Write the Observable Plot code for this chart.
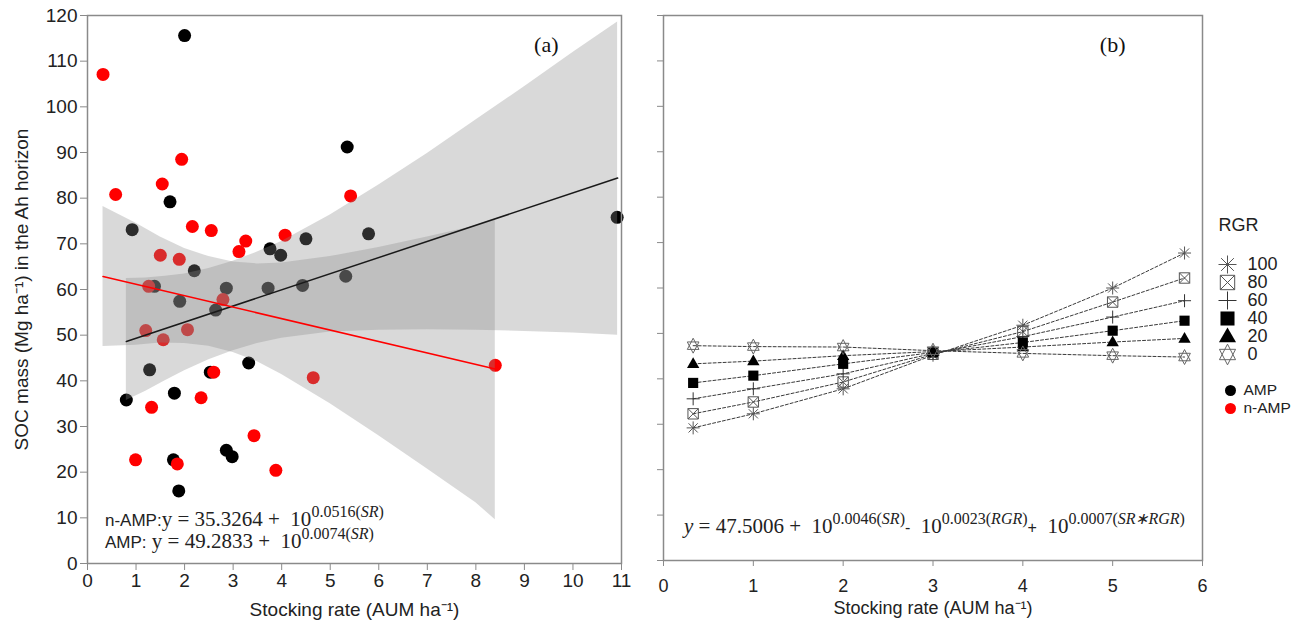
<!DOCTYPE html>
<html><head><meta charset="utf-8">
<script src="https://cdn.jsdelivr.net/npm/d3@7"></script>
<script src="https://cdn.jsdelivr.net/npm/@observablehq/plot@0.6"></script>
<style>
body{margin:0;background:#fff;}
#wrap{position:relative;width:1307px;height:624px;overflow:hidden;font-family:"Liberation Sans",Arial,sans-serif;}
#wrap svg{position:absolute;top:0;}
.eq{position:absolute;white-space:nowrap;color:#222;font-family:"Liberation Serif","Times New Roman",serif;font-size:21px;line-height:21px;}
.eq .s{font-family:"Liberation Sans",Arial,sans-serif;font-size:17px;}
.eq sup{font-size:16px;vertical-align:0.55em;line-height:0;}
.eq .op{font-family:"Liberation Sans",Arial,sans-serif;font-size:16px;}
</style></head><body><div id="wrap"></div>
<script>
// ---------- Panel (a) data ----------
const ampSR  = [2.00, 1.70, 0.92, 3.76, 3.98, 4.50, 5.79, 2.20, 1.38, 1.90, 2.86, 2.64, 3.72, 4.43, 5.32, 1.28, 3.32, 2.53, 0.80, 1.79, 1.77, 1.88, 2.86, 2.98, 5.35, 10.91];
const ampSOC = [115.6, 79.2, 73.1, 68.9, 67.5, 71.1, 72.2, 64.1, 60.7, 57.4, 60.3, 55.5, 60.3, 60.9, 62.9, 42.4, 43.9, 41.9, 35.8, 37.3, 22.7, 15.9, 24.8, 23.4, 91.2, 75.8];
const nampSR  = [0.32, 0.58, 1.94, 1.54, 2.16, 2.55, 3.12, 3.26, 4.07, 1.50, 1.89, 1.26, 2.79, 1.20, 1.56, 2.06, 2.60, 4.65, 2.34, 1.32, 0.99, 1.85, 3.43, 3.88, 5.42, 8.40];
const nampSOC = [107.1, 80.8, 88.5, 83.1, 73.8, 72.9, 68.3, 70.6, 71.9, 67.5, 66.6, 60.7, 57.8, 51.0, 49.0, 51.2, 41.9, 40.7, 36.3, 34.2, 22.7, 21.8, 28.0, 20.4, 80.5, 43.4];

// fitted lines (end points)
const ampFitSR = [0.80, 10.92];
const ampFitSOC = [48.6, 84.4];
const nampFitSR = [0.32, 8.40];
const nampFitSOC = [62.85, 42.6];

// confidence bands
const ampBandSR = [0.80, 1.2, 1.6, 2.0, 2.5, 3.0, 3.5, 4.0, 5.0, 6.0, 7.0, 8.0, 9.0, 10.0, 10.92];
const ampBandLo = [35.7, 37.7, 40.0, 42.2, 44.6, 46.6, 48.2, 49.3, 50.7, 51.1, 51.2, 51.1, 50.8, 50.5, 50.0];
const ampBandHi = [62.4, 62.5, 62.9, 63.4, 64.6, 66.2, 68.2, 70.5, 76.3, 82.9, 89.8, 97.1, 104.4, 111.9, 118.6];
const nampBandSR = [0.32, 1.0, 1.5, 2.0, 2.5, 3.0, 3.5, 4.0, 5.0, 6.0, 7.0, 8.0, 8.40];
const nampBandLo = [47.5, 47.8, 48.3, 48.2, 47.6, 46.2, 44.2, 41.4, 35.0, 28.0, 20.7, 13.3, 9.6];
const nampBandHi = [78.2, 74.5, 71.5, 69.0, 67.2, 66.0, 65.6, 65.8, 67.2, 69.2, 71.5, 73.9, 75.2];

const aYTicks = d3.range(0, 121, 10);
const aXTicks = d3.range(0, 12, 1);

// ---------- Panel (b) data ----------
const srB = [0.33, 1, 2, 3, 4, 5, 5.8];
const rgrLevels = [100, 80, 60, 40, 20, 0];
const socRGR100 = [29.2, 32.3, 37.8, 45.2, 51.8, 60.0, 67.7];
const socRGR80  = [32.3, 34.9, 39.3, 45.4, 50.4, 56.9, 62.2];
const socRGR60  = [35.6, 37.8, 41.1, 45.6, 49.3, 53.6, 57.2];
const socRGR40  = [39.1, 40.7, 43.3, 45.8, 48.0, 50.6, 52.8];
const socRGR20  = [43.3, 43.9, 45.1, 46.0, 47.0, 48.1, 48.9];
const socRGR0   = [47.3, 47.1, 47.0, 46.2, 45.6, 45.1, 44.8];
const bXTicks = d3.range(0, 7, 1);
const groupLabels = ["AMP", "n-AMP"];

// ---------- tables ----------
const ampPts = ampSR.map((x, i) => ({sr: x, soc: ampSOC[i]}));
const nampPts = nampSR.map((x, i) => ({sr: x, soc: nampSOC[i]}));
const ampFit = ampFitSR.map((x, i) => ({sr: x, soc: ampFitSOC[i]}));
const nampFit = nampFitSR.map((x, i) => ({sr: x, soc: nampFitSOC[i]}));
const ampBand = ampBandSR.map((x, i) => ({sr: x, lo: ampBandLo[i], hi: ampBandHi[i]}));
const nampBand = nampBandSR.map((x, i) => ({sr: x, lo: nampBandLo[i], hi: nampBandHi[i]}));
const seriesB = [socRGR100, socRGR80, socRGR60, socRGR40, socRGR20, socRGR0];
const tableB = rgrLevels.flatMap((g, k) => srB.map((x, i) => ({rgr: g, sr: x, soc: seriesB[k][i]})));

// ---------- custom symbols ----------
const rOf = size => Math.sqrt(size / Math.PI);
const asterisk8 = {draw(c, size) { const r = rOf(size), d = r * Math.SQRT1_2;
  c.moveTo(-r, 0); c.lineTo(r, 0); c.moveTo(0, -r); c.lineTo(0, r);
  c.moveTo(-d, -d); c.lineTo(d, d); c.moveTo(d, -d); c.lineTo(-d, d); }};
const boxX = {draw(c, size) { const s = rOf(size) * 0.8;
  c.moveTo(-s, -s); c.lineTo(s, -s); c.lineTo(s, s); c.lineTo(-s, s); c.closePath();
  c.moveTo(-s, -s); c.lineTo(s, s); c.moveTo(s, -s); c.lineTo(-s, s); }};
const plusS = {draw(c, size) { const r = rOf(size);
  c.moveTo(-r, 0); c.lineTo(r, 0); c.moveTo(0, -r); c.lineTo(0, r); }};
const squareF = {draw(c, size) { const s = rOf(size) * 0.78;
  c.moveTo(-s, -s); c.lineTo(s, -s); c.lineTo(s, s); c.lineTo(-s, s); c.closePath(); }};
const triF = {draw(c, size) { const r = rOf(size), h = r * 0.95;
  c.moveTo(0, -r); c.lineTo(h, r * 0.65); c.lineTo(-h, r * 0.65); c.closePath(); }};
const hexagram = {draw(c, size) { const r = rOf(size) * 1.15, h = r * 0.78;
  c.moveTo(0, -r); c.lineTo(h, r / 2); c.lineTo(-h, r / 2); c.closePath();
  c.moveTo(0, r); c.lineTo(h, -r / 2); c.lineTo(-h, -r / 2); c.closePath(); }};
const symStyle = {
  100: {symbol: asterisk8, fill: "none", stroke: "#555"},
  80:  {symbol: boxX, fill: "none", stroke: "#555"},
  60:  {symbol: plusS, fill: "none", stroke: "#333"},
  40:  {symbol: squareF, fill: "#000", stroke: "none"},
  20:  {symbol: triF, fill: "#000", stroke: "none"},
  0:   {symbol: hexagram, fill: "none", stroke: "#666"}
};

const axisGray = "#8a8a8a";
const sans = "Liberation Sans, Arial, sans-serif";

// ---------- Panel (a) ----------
const plotA = Plot.plot({
  width: 640, height: 624,
  marginLeft: 87, marginRight: 19, marginTop: 15, marginBottom: 61,
  x: {domain: [0, 11]},
  y: {domain: [0, 120]},
  style: {fontFamily: sans, fontSize: "19px", color: "#222", background: "transparent"},
  marks: [
    Plot.dot(ampPts, {x: "sr", y: "soc", r: 6.5, fill: "#000"}),
    Plot.dot(nampPts, {x: "sr", y: "soc", r: 6.5, fill: "#ff0000"}),
    Plot.areaY(ampBand, {x: "sr", y1: "lo", y2: "hi", fill: "#888", fillOpacity: 0.32}),
    Plot.areaY(nampBand, {x: "sr", y1: "lo", y2: "hi", fill: "#888", fillOpacity: 0.32}),
    Plot.line(ampFit, {x: "sr", y: "soc", stroke: "#1a1a1a", strokeWidth: 1.5}),
    Plot.line(nampFit, {x: "sr", y: "soc", stroke: "#ff0000", strokeWidth: 1.6}),
    Plot.frame({stroke: axisGray, strokeWidth: 1.5}),
    Plot.axisY({ticks: aYTicks, tickSize: 7, tickPadding: 3, stroke: axisGray, fill: "#222", fontSize: 19,
      label: "SOC mass (Mg ha⁻¹) in the Ah horizon", labelAnchor: "center", labelOffset: 73, labelArrow: "none"}),
    Plot.axisX({ticks: aXTicks, tickSize: 7, tickPadding: 3, stroke: axisGray, fill: "#222", fontSize: 19,
      label: "Stocking rate (AUM ha⁻¹)", labelAnchor: "center", labelOffset: 52, labelArrow: "none"}),
    Plot.text(["(a)"], {frameAnchor: "top-right", dx: -63, dy: 21, text: d => d, fontFamily: "Liberation Serif, Times New Roman, serif", fontSize: 22, fill: "#111"})
  ]
});
plotA.style.left = "0px";

// ---------- Panel (b) ----------
const marksB = [
  Plot.frame({stroke: axisGray, strokeWidth: 1.5}),
  Plot.axisY({ticks: aYTicks, tickSize: 6, tickFormat: () => "", stroke: axisGray, label: null}),
  Plot.axisX({ticks: bXTicks, tickSize: 6, tickPadding: 13, tickFormat: "d", stroke: axisGray, fill: "#222", fontSize: 18,
    label: "Stocking rate (AUM ha⁻¹)", labelAnchor: "center", labelOffset: 53, labelArrow: "none"}),
  Plot.line(tableB, {x: "sr", y: "soc", z: "rgr", stroke: "#3a3a3a", strokeWidth: 1, strokeDasharray: "3,2"})
];
for (const g of rgrLevels) {
  const st = symStyle[g];
  marksB.push(Plot.dot(tableB.filter(d => d.rgr === g), {x: "sr", y: "soc", r: 6.5, symbol: st.symbol, fill: st.fill, stroke: st.stroke, strokeWidth: 1}));
}
marksB.push(Plot.text(["(b)"], {frameAnchor: "top-right", dx: -77, dy: 21, text: d => d, fontFamily: "Liberation Serif, Times New Roman, serif", fontSize: 22, fill: "#111"}));
const plotB = Plot.plot({
  width: 667, height: 624,
  marginLeft: 23, marginRight: 105, marginTop: 15, marginBottom: 64,
  x: {domain: [0, 6]},
  y: {domain: [0, 120]},
  style: {fontFamily: sans, fontSize: "18px", color: "#222", background: "transparent"},
  marks: marksB
});
plotB.style.left = "640px";

// ---------- Legend ----------
const legendRows = rgrLevels.map(String).concat(["gap"], groupLabels);
const legRGR = rgrLevels.map(g => ({row: String(g), label: String(g)}));
const legMarks = [
  Plot.text(["RGR"], {frameAnchor: "top-left", dx: 13, dy: 218, text: d => d, textAnchor: "start", fontSize: 18, fill: "#222"})
];
for (const g of rgrLevels) {
  const st = symStyle[g];
  legMarks.push(Plot.dot([{row: String(g)}], {x: () => 0, y: "row", r: 9, symbol: st.symbol, fill: st.fill, stroke: st.stroke, strokeWidth: 1}));
}
legMarks.push(Plot.text(legRGR, {x: () => 0, y: "row", text: "label", dx: 20, textAnchor: "start", fontSize: 18, fill: "#222"}));
legMarks.push(Plot.dot(groupLabels, {x: () => 0, y: d => d, r: 5.5, dx: 3, fill: d => d === "AMP" ? "#000" : "#ff0000"}));
legMarks.push(Plot.text(groupLabels, {x: () => 0, y: d => d, text: d => d, dx: 16, textAnchor: "start", fontSize: 15.5, fill: "#222"}));
const plotL = Plot.plot({
  width: 102, height: 624, margin: 0,
  x: {domain: [0, 1], range: [22, 100], axis: null},
  y: {type: "point", domain: legendRows, range: [252, 419], axis: null},
  style: {fontFamily: sans, background: "transparent"},
  marks: legMarks
});
plotL.style.left = "1205px";

const wrap = document.getElementById("wrap");
wrap.append(plotA, plotB, plotL);

// ---------- equations ----------
function eq(left, top, html) {
  const d = document.createElement("div");
  d.className = "eq"; d.style.left = left + "px"; d.style.top = top + "px";
  d.innerHTML = html; wrap.append(d);
}
eq(105, 509, '<span class="s">n-AMP:</span>y = 35.3264 + &nbsp;10<sup>0.0516(<i>SR</i>)</sup>');
eq(105, 531, '<span class="s">AMP:</span>&nbsp;y = 49.2833 + &nbsp;10<sup>0.0074(<i>SR</i>)</sup>');
eq(684, 516, '<i>y</i> = 47.5006 + &nbsp;10<sup>0.0046(<i>SR</i>)</sup><span class="op">-</span> &nbsp;10<sup>0.0023(<i>RGR</i>)</sup><span class="op">+</span> &nbsp;10<sup>0.0007(<i>SR∗RGR</i>)</sup>');
</script></body></html>
